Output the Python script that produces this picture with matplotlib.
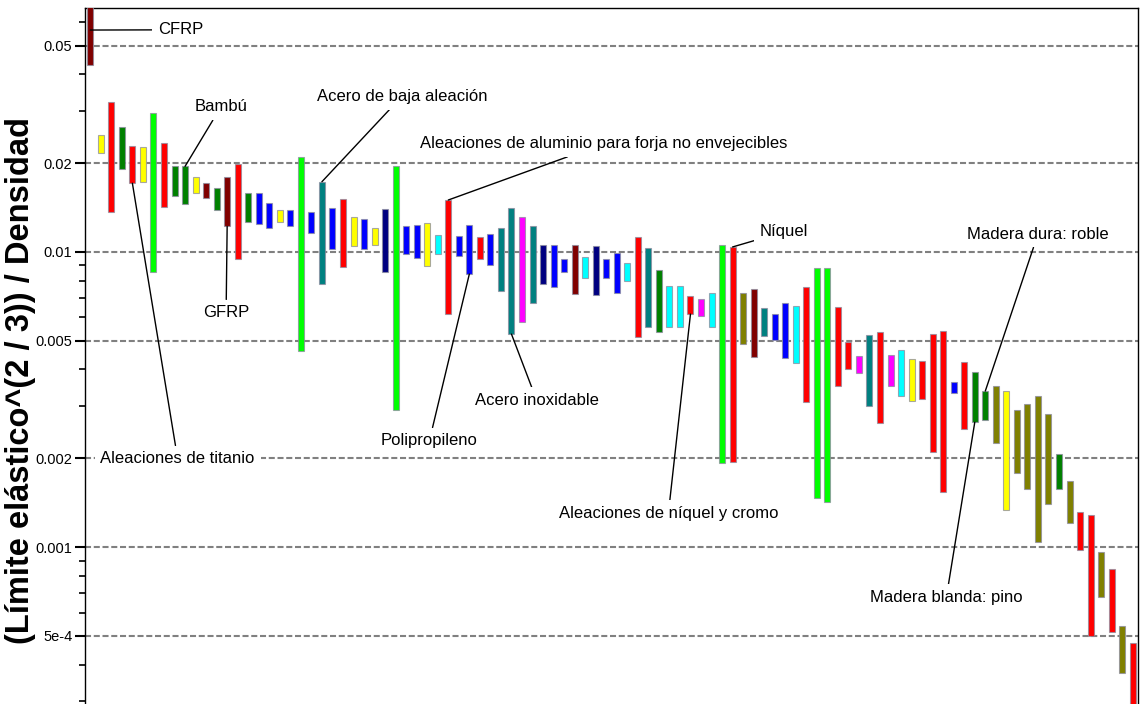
import numpy as np
import matplotlib
matplotlib.use("Agg")
import matplotlib.pyplot as plt
from matplotlib.ticker import FixedLocator, FixedFormatter, LogLocator, NullFormatter

plt.rcParams['font.family'] = ['Liberation Sans', 'DejaVu Sans']

# colour code of each material family
palette = {
    'r': '#FF0000', 'y': '#FFFF00', 'g': '#008000', 'l': '#00FF00',
    'm': '#800000', 'b': '#0000FF', 'n': '#000080', 't': '#008080',
    'c': '#00FFFF', 'p': '#FF00FF', 'o': '#808000',
}

bar_colors = list(
    "myrgryl" "rggymgm" "rgbbybl" "btbrybyn" "lbbycrb" "brbttptn"
    "bbmcnbbc" "rtgccrpc" "lromtbbcr" "llrrptrpcyrrr" "brggo" "yoooogor" "roror"
)

# (yield strength^(2/3)) / density, upper and lower end of each range
hi = [
    0.080, 0.0249, 0.0322, 0.0265, 0.0228, 0.0227, 0.0296, 0.0234, 0.0195, 0.0195,
    0.0179, 0.0171, 0.0165, 0.0179, 0.0199, 0.0159, 0.0159, 0.0147, 0.0139, 0.0139,
    0.0210, 0.0137, 0.0173, 0.0141, 0.0151, 0.0131, 0.0129, 0.0121, 0.0140, 0.0195,
    0.0122, 0.0123, 0.0125, 0.0114, 0.0150, 0.0113, 0.0123, 0.0112, 0.0115, 0.0121,
    0.0141, 0.0131, 0.0122, 0.0106, 0.0106, 0.00947, 0.0106, 0.00962, 0.0105, 0.00947,
    0.00992, 0.00918, 0.0112, 0.0103, 0.0087, 0.00767, 0.00767, 0.00709, 0.00693, 0.00726,
    0.0106, 0.0104, 0.00726, 0.00749, 0.00646, 0.00616, 0.00672, 0.00656, 0.00761, 0.00883,
    0.00883, 0.00651, 0.00496, 0.00444, 0.00523, 0.00536, 0.00448, 0.00466, 0.00434, 0.00427,
    0.00527, 0.0054, 0.00362, 0.00424, 0.00393, 0.00338, 0.00352, 0.00338, 0.00291, 0.00305,
    0.00325, 0.00283, 0.00207, 0.00167, 0.00132, 0.00128, 0.000964, 0.000842, 0.000539, 0.000472,
]
lo = [
    0.0431, 0.0217, 0.0137, 0.0191, 0.0171, 0.0173, 0.00856, 0.0142, 0.0155, 0.0145,
    0.0158, 0.0152, 0.0139, 0.0122, 0.00947, 0.0126, 0.0124, 0.0121, 0.0126, 0.0122,
    0.00462, 0.0116, 0.00779, 0.0102, 0.00889, 0.0105, 0.0102, 0.0106, 0.00856, 0.00291,
    0.00984, 0.00955, 0.00897, 0.00984, 0.00616, 0.0097, 0.00842, 0.00947, 0.00904, 0.00738,
    0.00527, 0.00579, 0.00672, 0.00779, 0.00761, 0.00856, 0.00721, 0.00816, 0.00715, 0.00816,
    0.00726, 0.00797, 0.00515, 0.00557, 0.00536, 0.00557, 0.00557, 0.00616, 0.00607, 0.00557,
    0.00193, 0.00194, 0.00488, 0.00441, 0.00519, 0.00503, 0.00437, 0.0042, 0.0031, 0.00147,
    0.00142, 0.00352, 0.00401, 0.00389, 0.00301, 0.00263, 0.00352, 0.00325, 0.00313, 0.00318,
    0.0021, 0.00154, 0.00333, 0.00251, 0.00265, 0.00269, 0.00225, 0.00134, 0.00178, 0.00157,
    0.00104, 0.0014, 0.00157, 0.00121, 0.000977, 0.000501, 0.000677, 0.000516, 0.000374, 0.00029,
]

# labelled materials: text, bar index, value where the leader touches, text position
labels = [
    ("CFRP", 0, 0.0565, 8.6, 0.0566),
    ("Bambú", 9, 0.0195, 12.4, 0.0310),
    ("Aleaciones de titanio", 4, 0.0171, 8.3, 0.00199),
    ("GFRP", 13, 0.0122, 12.9, 0.00622),
    ("Acero de baja aleación", 22, 0.0173, 29.6, 0.0337),
    ("Aleaciones de aluminio para forja no envejecibles", 34, 0.0150, 48.8, 0.0233),
    ("Polipropileno", 36, 0.00842, 32.2, 0.00229),
    ("Acero inoxidable", 40, 0.00527, 42.4, 0.00314),
    ("Níquel", 61, 0.0104, 65.9, 0.0117),
    ("Aleaciones de níquel y cromo", 57, 0.00616, 54.9, 0.00130),
    ("Madera dura: roble", 85, 0.00338, 90.0, 0.0115),
    ("Madera blanda: pino", 84, 0.00265, 81.3, 0.000676),
]

yticks = [0.05, 0.02, 0.01, 0.005, 0.002, 0.001, 0.0005]
ytick_labels = ["0.05", "0.02", "0.01", "0.005", "0.002", "0.001", "5e-4"]

x = np.arange(len(hi))
hi = np.array(hi)
lo = np.array(lo)

fig = plt.figure(figsize=(11.4, 7.04), dpi=100)
ax = fig.add_axes([85 / 1140, 0.0, 1053 / 1140, 696 / 704])

ax.set_yscale('log')
ax.set_xlim(-0.5, 99.5)
ax.set_ylim(2.94e-4, 0.0671)

ax.bar(x, hi - lo, bottom=lo, width=0.57,
       color=[palette[c] for c in bar_colors],
       edgecolor=(0.55, 0.55, 0.62, 0.75), linewidth=0.8, zorder=3)

ax.yaxis.set_major_locator(FixedLocator(yticks))
ax.yaxis.set_major_formatter(FixedFormatter(ytick_labels))
ax.yaxis.set_minor_locator(LogLocator(base=10, subs=np.arange(2, 10)))
ax.yaxis.set_minor_formatter(NullFormatter())
ax.tick_params(axis='y', which='major', length=7, width=1.5, labelsize=10.5, pad=2)
ax.tick_params(axis='y', which='minor', length=4, width=1.2)
ax.set_xticks([])
ax.spines['bottom'].set_visible(False)
for s in ('left', 'top', 'right'):
    ax.spines[s].set_linewidth(1.0)

ax.yaxis.grid(True, which='major', color='#808080', linewidth=1.5,
              linestyle=(0, (2.9, 1.3)), zorder=1)
ax.set_axisbelow(True)

ax.set_ylabel("(Límite elástico^(2 / 3)) / Densidad", fontsize=23.5,
              fontweight='bold', va='center')
ax.yaxis.set_label_coords(-0.0615, 0.465)

for text, i, yv, tx, ty in labels:
    ax.annotate(text, xy=(i, yv), xytext=(tx, ty), fontsize=12,
                ha='center', va='center', zorder=5,
                bbox=dict(boxstyle='square,pad=0.35', fc='white', ec='none'),
                arrowprops=dict(arrowstyle='-', color='black', lw=1.0,
                                shrinkA=0, shrinkB=0))

fig.savefig("out.png", dpi=100)
